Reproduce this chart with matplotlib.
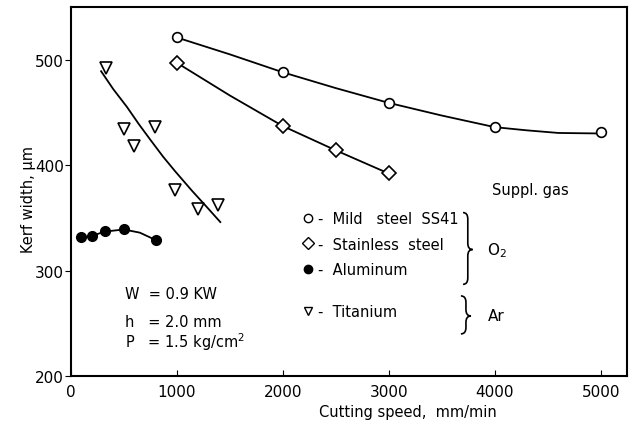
import matplotlib
matplotlib.use('Agg')

import numpy as np
import matplotlib.pyplot as plt
from matplotlib.path import Path
from matplotlib.patches import PathPatch
from matplotlib.lines import Line2D

# ==========================================
# DATA
# ==========================================

mild_x = [1000, 2000, 3000, 4000, 5000]
mild_y = [521, 488, 459, 436, 431]
mild_curve_x = [1000, 1500, 2000, 2500, 3000, 3500, 4000, 4300, 4600, 5000]
mild_curve_y = [521, 505, 488, 473, 459, 447, 436, 433, 430.5, 430]

stain_x = [1000, 2000, 2500, 3000]
stain_y = [497, 437, 414, 393]
stain_curve_x = [1000, 1500, 2000, 2500, 3000]
stain_curve_y = [497, 466, 437, 414, 392]

alum_x = [100, 200, 320, 500, 800]
alum_y = [331.5, 333, 338, 339, 329]
alum_curve_x = [100, 200, 320, 500, 650, 800]
alum_curve_y = [331.5, 333, 337, 339, 336, 329]

ti_x = [330, 500, 600, 790, 980, 1200, 1390]
ti_y = [492, 434, 418, 436, 376, 358, 362]
ti_curve_x = [285, 400, 530, 640, 750, 870, 985, 1140, 1285, 1410]
ti_curve_y = [489, 472, 455, 439, 424, 408, 394, 376, 360, 346]

x_ticks = [0, 1000, 2000, 3000, 4000, 5000]
y_ticks = [200, 300, 400, 500]

# ==========================================
# FIGURE
# ==========================================

fig = plt.figure(figsize=(6.33, 4.39), dpi=100)
ax = fig.add_axes([0.112, 0.141, 0.879, 0.841])

LW = 1.3
MS = 7

ax.plot(mild_curve_x, mild_curve_y, color="black", linewidth=LW)
ax.plot(mild_x, mild_y, linestyle="none", marker="o", markersize=MS,
        markerfacecolor="white", markeredgecolor="black", markeredgewidth=1.2)

ax.plot(stain_curve_x, stain_curve_y, color="black", linewidth=LW)
ax.plot(stain_x, stain_y, linestyle="none", marker="D", markersize=MS,
        markerfacecolor="white", markeredgecolor="black", markeredgewidth=1.2)

ax.plot(alum_curve_x, alum_curve_y, color="black", linewidth=LW)
ax.plot(alum_x, alum_y, linestyle="none", marker="o", markersize=MS,
        markerfacecolor="black", markeredgecolor="black")

ax.plot(ti_curve_x, ti_curve_y, color="black", linewidth=LW)
ax.plot(ti_x, ti_y, linestyle="none", marker="v", markersize=MS + 1,
        markerfacecolor="white", markeredgecolor="black", markeredgewidth=1.2)

ax.set_xlim(0, 5250)
ax.set_ylim(200, 550)
ax.set_xticks(x_ticks)
ax.set_yticks(y_ticks)
ax.tick_params(axis="x", direction="in", length=4, labelsize=11, pad=6)
ax.tick_params(axis="y", direction="out", length=4, labelsize=11, pad=1)
for s in ax.spines.values():
    s.set_linewidth(1.5)

ax.text(0.605, -0.095, "Cutting speed,  mm/min", transform=ax.transAxes,
        ha="center", va="center", fontsize=10.5)
ax.text(-0.077, 0.48, "Kerf width, \u03bcm", transform=ax.transAxes,
        ha="center", va="center", fontsize=10.5, rotation=90)

# ==========================================
# LEGENDS
# ==========================================

h_mild = Line2D([], [], linestyle="none", marker="o", markersize=6,
                markerfacecolor="white", markeredgecolor="black")
h_stain = Line2D([], [], linestyle="none", marker="D", markersize=6,
                 markerfacecolor="white", markeredgecolor="black")
h_alum = Line2D([], [], linestyle="none", marker="o", markersize=6,
                markerfacecolor="black", markeredgecolor="black")
h_ti = Line2D([], [], linestyle="none", marker="v", markersize=6,
              markerfacecolor="white", markeredgecolor="black")

leg1 = ax.legend([h_mild, h_stain, h_alum],
                 ["-  Mild   steel  SS41", "-  Stainless  steel", "-  Aluminum"],
                 loc="upper left", bbox_to_anchor=(0.416, 0.447),
                 frameon=False, fontsize=10.5, handlelength=0.8,
                 handletextpad=0.3, labelspacing=0.72,
                 borderpad=0, borderaxespad=0)
ax.add_artist(leg1)
ax.legend([h_ti], ["-  Titanium"],
          loc="upper left", bbox_to_anchor=(0.416, 0.194),
          frameon=False, fontsize=10.5, handlelength=0.8,
          handletextpad=0.3, borderpad=0, borderaxespad=0)

# ==========================================
# BRACES AND ANNOTATIONS
# ==========================================

def brace(x0, w, ybot, ytop, ymid, r):
    xm = x0 + w / 2
    verts = [
        (x0, ytop), (xm, ytop), (xm, ytop - r),
        (xm, ymid + r),
        (xm, ymid), (x0 + w, ymid),
        (xm, ymid), (xm, ymid - r),
        (xm, ybot + r),
        (xm, ybot), (x0, ybot),
    ]
    codes = [Path.MOVETO, Path.CURVE3, Path.CURVE3,
             Path.LINETO,
             Path.CURVE3, Path.CURVE3,
             Path.CURVE3, Path.CURVE3,
             Path.LINETO,
             Path.CURVE3, Path.CURVE3]
    ax.add_patch(PathPatch(Path(verts, codes), facecolor="none",
                           edgecolor="black", linewidth=1.2))

brace(3700, 90, 287, 355, 320, 6)
brace(3680, 95, 240, 276, 257, 6)

ax.text(3930, 320, "O$_2$", fontsize=11, ha="left", va="center")
ax.text(3930, 257, "Ar", fontsize=11, ha="left", va="center")
ax.text(3970, 377, "Suppl. gas", fontsize=10.5, ha="left", va="center")

ax.text(510, 278, "W  = 0.9 KW", fontsize=10.5, ha="left", va="center")
ax.text(510, 252, "h   = 2.0 mm", fontsize=10.5, ha="left", va="center")
ax.text(510, 233, "P   = 1.5 kg/cm$^2$", fontsize=10.5, ha="left", va="center")

fig.savefig("out.png", dpi=100)
